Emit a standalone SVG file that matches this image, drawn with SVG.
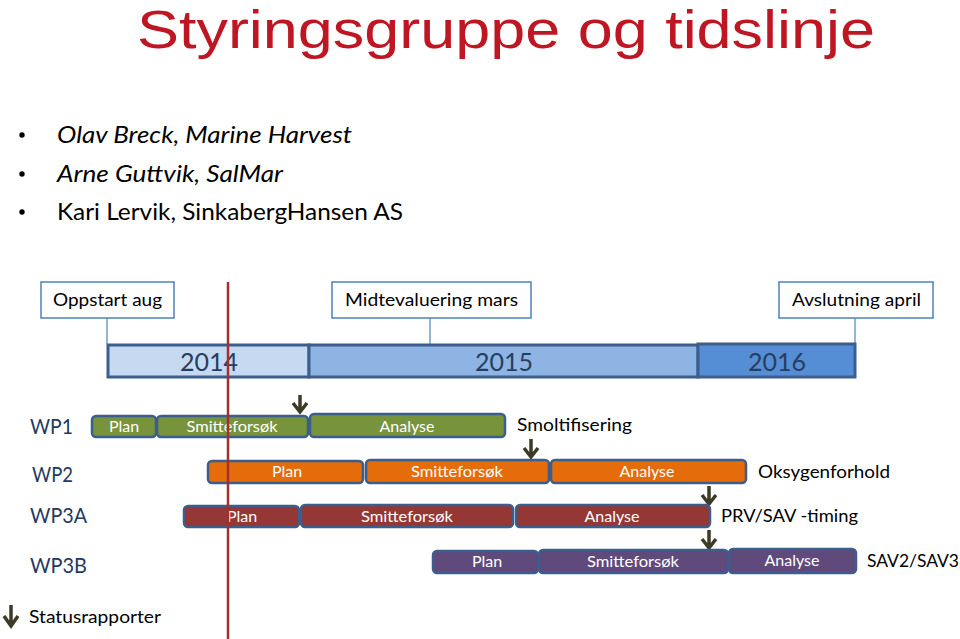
<svg xmlns="http://www.w3.org/2000/svg" width="960" height="639" viewBox="0 0 960 639">
<style>
text{font-family:Lato,"Liberation Sans",sans-serif;}
.title{font-family:"Liberation Sans",sans-serif;font-size:53px;fill:#BE1622;}
.bul{font-size:23px;fill:#000;}
.it{font-style:italic;}
.ms rect{fill:#fff;stroke:#4F81BD;stroke-width:1.5;}
.ms text{font-size:18px;fill:#000;text-anchor:middle;}
.yr{font-size:25px;fill:#243F60;text-anchor:middle;}
.wp{font-size:21px;fill:#1F3A5F;}
.bar{stroke:#3B5E8C;stroke-width:2.5;}
.bt{font-size:16px;fill:#fff;text-anchor:middle;}
.g{fill:#77933C;}
.o{fill:#E46C0A;}
.r{fill:#953735;}
.p{fill:#604A7B;}
.lbl{font-size:18px;fill:#000;}
.tick{stroke:#4F81BD;stroke-width:1.2;fill:none;}
.arr{stroke:#3D3B26;stroke-width:3.5;fill:none;stroke-linecap:butt;stroke-linejoin:miter;}
</style>

<text class="title" x="137" y="48" textLength="738" lengthAdjust="spacingAndGlyphs">Styringsgruppe og tidslinje</text>

<g id="bullets">
<circle cx="22" cy="135" r="2.7" fill="#000"/>
<circle cx="22" cy="174" r="2.7" fill="#000"/>
<circle cx="22" cy="212" r="2.7" fill="#000"/>
<text class="bul it" x="57" y="143" textLength="295" lengthAdjust="spacingAndGlyphs">Olav Breck, Marine Harvest</text>
<text class="bul it" x="57" y="182" textLength="226" lengthAdjust="spacingAndGlyphs">Arne Guttvik, SalMar</text>
<text class="bul" x="57" y="220" textLength="346" lengthAdjust="spacingAndGlyphs">Kari Lervik, SinkabergHansen AS</text>
</g>

<g id="connectors">
<line class="tick" x1="107" y1="318" x2="107" y2="344"/>
<line class="tick" x1="430" y1="318" x2="430" y2="344"/>
<line class="tick" x1="855" y1="318" x2="855" y2="344"/>
<g id="status-arrows">
<path class="arr" d="M300 395V412M293 403L300 412L307 403"/>
<path class="arr" d="M531 439V457M524 448L531 457L538 448"/>
<path class="arr" d="M709 486V504M702 495L709 504L716 495"/>
<path class="arr" d="M709 530V548M702 539L709 548L716 539"/>
<path class="arr" d="M11 605V626M4 616L11 626L18 616"/>
</g>
</g>

<g id="ms-oppstart" class="ms">
<rect x="41" y="282" width="133" height="36"/>
<text x="107.5" y="306" textLength="109" lengthAdjust="spacingAndGlyphs">Oppstart aug</text>
</g>
<g id="ms-midt" class="ms">
<rect x="332" y="282" width="199" height="36"/>
<text x="431.5" y="306" textLength="173" lengthAdjust="spacingAndGlyphs">Midtevaluering mars</text>
</g>
<g id="ms-avslutning" class="ms">
<rect x="779" y="282" width="154" height="36"/>
<text x="856.5" y="306" textLength="129" lengthAdjust="spacingAndGlyphs">Avslutning april</text>
</g>

<g id="year-2014">
<rect x="108" y="345" width="201" height="32" fill="#C6D9F1" stroke="#3B5E8C" stroke-width="3"/>
<text class="yr" x="209" y="371">2014</text>
</g>
<g id="year-2015">
<rect x="309" y="345" width="389" height="32" fill="#8EB4E3" stroke="#3B5E8C" stroke-width="3"/>
<text class="yr" x="504" y="371">2015</text>
</g>
<g id="year-2016">
<rect x="698" y="344" width="157" height="33" fill="#558ED5" stroke="#3B5E8C" stroke-width="3"/>
<text class="yr" x="777" y="371">2016</text>
</g>

<g id="wp1">
<text class="wp" x="30" y="434" textLength="43" lengthAdjust="spacingAndGlyphs">WP1</text>
<g id="wp1-plan"><rect class="bar g" x="92" y="416" width="64" height="21" rx="4"/><text class="bt" x="124" y="432">Plan</text></g>
<g id="wp1-smitte"><rect class="bar g" x="157" y="416" width="151" height="21" rx="4"/><text class="bt" x="232" y="432" textLength="91" lengthAdjust="spacingAndGlyphs">Smitteforsøk</text></g>
<g id="wp1-analyse"><rect class="bar g" x="310" y="414" width="195" height="23" rx="4"/><text class="bt" x="407" y="432">Analyse</text></g>
<text class="lbl" x="517" y="431" textLength="115" lengthAdjust="spacingAndGlyphs">Smoltifisering</text>
</g>

<g id="wp2">
<text class="wp" x="32" y="482" textLength="41" lengthAdjust="spacingAndGlyphs">WP2</text>
<g id="wp2-plan"><rect class="bar o" x="208" y="461" width="155" height="22" rx="4"/><text class="bt" x="287" y="477">Plan</text></g>
<g id="wp2-smitte"><rect class="bar o" x="366" y="460" width="183" height="23" rx="4"/><text class="bt" x="457" y="477" textLength="92" lengthAdjust="spacingAndGlyphs">Smitteforsøk</text></g>
<g id="wp2-analyse"><rect class="bar o" x="551" y="460" width="195" height="23" rx="4"/><text class="bt" x="647" y="477">Analyse</text></g>
<text class="lbl" x="758" y="478" textLength="132" lengthAdjust="spacingAndGlyphs">Oksygenforhold</text>
</g>

<g id="wp3a">
<text class="wp" x="30" y="523" textLength="57" lengthAdjust="spacingAndGlyphs">WP3A</text>
<g id="wp3a-plan"><rect class="bar r" x="184" y="506" width="115" height="21" rx="4"/><text class="bt" x="242" y="522">Plan</text></g>
<g id="wp3a-smitte"><rect class="bar r" x="301" y="505" width="212" height="22" rx="4"/><text class="bt" x="407" y="522" textLength="92" lengthAdjust="spacingAndGlyphs">Smitteforsøk</text></g>
<g id="wp3a-analyse"><rect class="bar r" x="516" y="505" width="194" height="22" rx="4"/><text class="bt" x="612" y="522">Analyse</text></g>
<text class="lbl" x="721" y="522" textLength="137" lengthAdjust="spacingAndGlyphs">PRV/SAV -timing</text>
</g>

<g id="wp3b">
<text class="wp" x="30" y="573" textLength="57" lengthAdjust="spacingAndGlyphs">WP3B</text>
<g id="wp3b-plan"><rect class="bar p" x="433" y="551" width="105" height="22" rx="4"/><text class="bt" x="487" y="567">Plan</text></g>
<g id="wp3b-smitte"><rect class="bar p" x="539" y="550" width="189" height="23" rx="4"/><text class="bt" x="633" y="567" textLength="92" lengthAdjust="spacingAndGlyphs">Smitteforsøk</text></g>
<g id="wp3b-analyse"><rect class="bar p" x="729" y="549" width="127" height="24" rx="4"/><text class="bt" x="792" y="566">Analyse</text></g>
<text class="lbl" x="867" y="567" textLength="92" lengthAdjust="spacingAndGlyphs">SAV2/SAV3</text>
</g>

<g id="legend">
<text class="lbl" x="29" y="623" textLength="132" lengthAdjust="spacingAndGlyphs">Statusrapporter</text>
</g>

<line id="today-line" x1="228" y1="282" x2="228" y2="639" stroke="#A3302E" stroke-width="2.5"/>
</svg>
